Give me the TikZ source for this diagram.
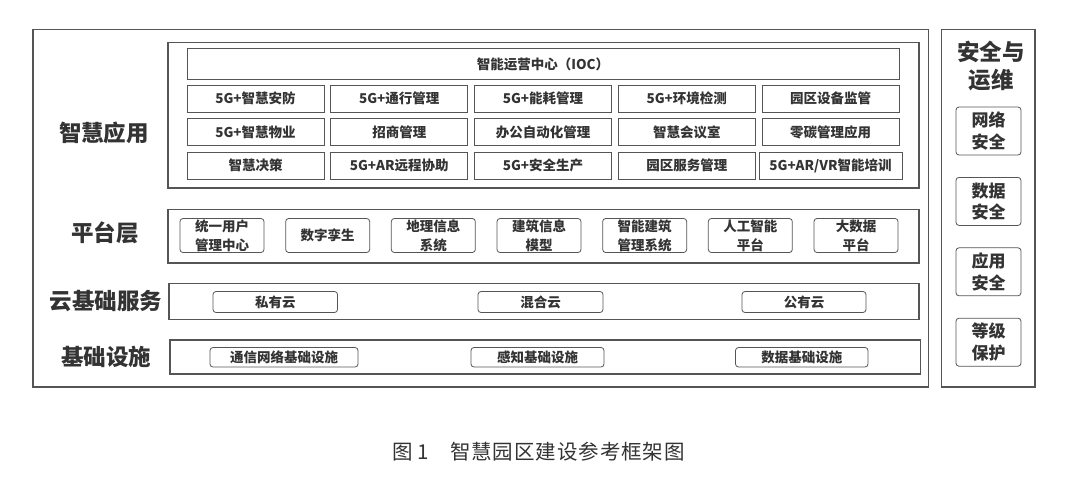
\documentclass[tikz,border=0pt]{standalone}
\usepackage{fontspec}
\newfontfamily\cjk{Noto Sans CJK SC}
\newfontfamily\capfont[LetterSpace=4.5]{Noto Sans CJK SC}
\definecolor{linec}{HTML}{555555}
\definecolor{txtc}{HTML}{333333}
\begin{document}
\begin{tikzpicture}[x=1pt,y=-1pt,
  frame/.style={draw=linec, line width=1.3pt, inner sep=0pt},
  layer/.style={draw=linec, line width=1.1pt, inner sep=0pt},
  appbox/.style={draw=linec, line width=0.8pt, inner sep=0pt, minimum height=27pt, minimum width=137pt,
    text=txtc, font={\cjk\bfseries\fontsize{13.5}{16}\selectfont}},
  platbox/.style={draw=linec, line width=0.8pt, rounded corners=3pt, inner sep=0pt, minimum height=34pt, minimum width=84pt,
    align=center, text=txtc, font={\cjk\bfseries\fontsize{13.5}{19}\selectfont}},
  rbox/.style={draw=linec, line width=0.8pt, rounded corners=3pt, inner sep=0pt,
    text=txtc, font={\cjk\bfseries\fontsize{13.5}{16}\selectfont}},
  secbox/.style={draw=linec, line width=0.8pt, rounded corners=3pt, inner sep=0pt, minimum height=48pt, minimum width=65pt,
    align=center, text=txtc, font={\cjk\bfseries\fontsize{17}{21.5}\selectfont}},
  lbl/.style={text=txtc, font={\cjk\bfseries\fontsize{22.5}{28}\selectfont}, align=center, inner sep=0pt}
]
\useasboundingbox[fill=white] (0,0) rectangle (1080,483);

% outer frames
\node[frame, minimum width=895.5pt, minimum height=357.5pt] (outer) at (480.75,208.25) {};
\node[frame, minimum width=93.5pt, minimum height=357.5pt] (right) at (988.25,208.25) {};

% application layer
\node[layer, minimum width=751pt, minimum height=145.5pt] (app) at (543.5,115.25) {};
\node[appbox, minimum width=712pt, minimum height=31pt] (ioc) at (543,64) {智能运营中心（IOC）};
\node[appbox] (a11) at (255.5,98.5) {5G+智慧安防};
\node[appbox] (a12) at (399.25,98.5) {5G+通行管理};
\node[appbox] (a13) at (543,98.5) {5G+能耗管理};
\node[appbox] (a14) at (686.75,98.5) {5G+环境检测};
\node[appbox] (a15) at (830.5,98.5) {园区设备监管};
\node[appbox] (a21) at (255.5,132.25) {5G+智慧物业};
\node[appbox] (a22) at (399.25,132.25) {招商管理};
\node[appbox] (a23) at (543,132.25) {办公自动化管理};
\node[appbox] (a24) at (686.75,132.25) {智慧会议室};
\node[appbox] (a25) at (830.5,132.25) {零碳管理应用};
\node[appbox] (a31) at (255.5,165.75) {智慧决策};
\node[appbox] (a32) at (399.25,165.75) {5G+AR远程协助};
\node[appbox] (a33) at (543,165.75) {5G+安全生产};
\node[appbox] (a34) at (686.75,165.75) {园区服务管理};
\node[appbox, minimum width=143pt] (a35) at (830.5,165.75) {5G+AR/VR智能培训};
\node[lbl] (lapp) at (104,133) {智慧应用};

% platform layer
\node[layer, minimum width=751pt, minimum height=53.5pt] (plat) at (543.5,236.25) {};
\node[platbox] (p1) at (222,235.5) {统一用户\\管理中心};
\node[platbox] (p2) at (327.67,235.5) {数字孪生};
\node[platbox] (p3) at (433.33,235.5) {地理信息\\系统};
\node[platbox] (p4) at (539,235.5) {建筑信息\\模型};
\node[platbox] (p5) at (644.67,235.5) {智能建筑\\管理系统};
\node[platbox] (p6) at (750.33,235.5) {人工智能\\平台};
\node[platbox] (p7) at (856,235.5) {大数据\\平台};
\node[lbl] (lplat) at (105,233) {平台层};

% cloud layer
\node[layer, minimum width=750pt, minimum height=36pt] (cloud) at (544,301.5) {};
\node[rbox, minimum width=124.5pt, minimum height=21pt] (c1) at (275.25,302) {私有云};
\node[rbox, minimum width=125pt, minimum height=21pt] (c2) at (540.5,302) {混合云};
\node[rbox, minimum width=124pt, minimum height=21pt] (c3) at (804,302) {公有云};
\node[lbl] (lcloud) at (106,301) {云基础服务};

% infrastructure layer
\node[layer, minimum width=750.5pt, minimum height=34pt] (infra) at (545.25,357) {};
\node[rbox, minimum width=148pt, minimum height=19.5pt] (i1) at (284,357.25) {通信网络基础设施};
\node[rbox, minimum width=133pt, minimum height=19.5pt] (i2) at (537.5,357.25) {感知基础设施};
\node[rbox, minimum width=132.5pt, minimum height=19.5pt] (i3) at (801.75,357.25) {数据基础设施};
\node[lbl] (linfra) at (106,357) {基础设施};

% security column
\node[lbl] (lsec) at (991,66) {安全与\\运维};
\node[secbox] (s1) at (988.5,131) {网络\\安全};
\node[secbox] (s2) at (988.5,201.4) {数据\\安全};
\node[secbox] (s3) at (988.5,271.8) {应用\\安全};
\node[secbox] (s4) at (988.5,342.2) {等级\\保护};

% caption
\node[text=txtc, font={\capfont\fontsize{20.5}{24}\selectfont}, inner sep=0pt] (cap) at (538.5,452) {图\hspace{5pt}1\hspace{21pt}智慧园区建设参考框架图};
\end{tikzpicture}
\end{document}
